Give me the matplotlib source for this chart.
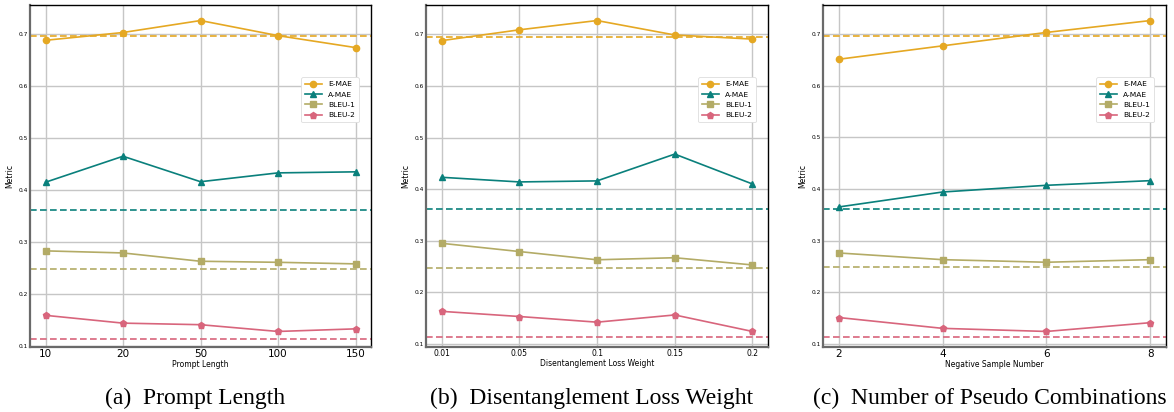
import matplotlib.pyplot as plt

# panel (a) prompt length
prompt_len = ["10", "20", "50", "100", "150"]
a_emae = [0.688, 0.703, 0.726, 0.697, 0.674]
a_amae = [0.415, 0.465, 0.416, 0.433, 0.435]
a_bleu1 = [0.283, 0.279, 0.263, 0.261, 0.258]
a_bleu2 = [0.159, 0.144, 0.141, 0.128, 0.133]

# panel (b) disentanglement loss weight
loss_weight = ["0.01", "0.05", "0.1", "0.15", "0.2"]
b_emae = [0.688, 0.709, 0.727, 0.699, 0.691]
b_amae = [0.423, 0.414, 0.416, 0.468, 0.410]
b_bleu1 = [0.295, 0.279, 0.263, 0.267, 0.253]
b_bleu2 = [0.163, 0.153, 0.142, 0.156, 0.124]

# panel (c) negative sample number
neg_num = [2, 4, 6, 8]
c_emae = [0.651, 0.677, 0.703, 0.726]
c_amae = [0.365, 0.394, 0.407, 0.416]
c_bleu1 = [0.276, 0.263, 0.258, 0.263]
c_bleu2 = [0.151, 0.130, 0.124, 0.141]

# baselines (dashed)
base = {"E-MAE": 0.696, "A-MAE": 0.361, "BLEU-1": 0.248, "BLEU-2": 0.114}

names = ["E-MAE", "A-MAE", "BLEU-1", "BLEU-2"]
colors = ["#E5A823", "#0A807C", "#B3AB66", "#D8657C"]
markers = ["o", "^", "s", "p"]


def draw(ax, x, series, xlabel, xtick_size):
    for name, ys, c, m in zip(names, series, colors, markers):
        ax.plot(x, ys, color=c, marker=m, markersize=4.5, linewidth=1.2, label=name)
    lo, hi = ax.get_ylim()
    for name, c in zip(names, colors):
        ax.axhline(base[name], color=c, linestyle=(0, (4, 2)), linewidth=1.2)
    ax.set_ylim(lo, hi)
    ax.grid(True, color="#c6c6c6", linewidth=1.0)
    ax.set_axisbelow(True)
    ax.tick_params(length=0, pad=1.5)
    ax.tick_params(axis="y", labelsize=4.2)
    ax.tick_params(axis="x", labelsize=xtick_size)
    ax.set_yticks([0.1, 0.2, 0.3, 0.4, 0.5, 0.6, 0.7])
    ax.set_xlabel(xlabel, fontsize=5.5, labelpad=1)
    ax.set_ylabel("Metric", fontsize=5.5, labelpad=3)
    for s in ["left", "bottom"]:
        ax.spines[s].set_color("#6a6a6a")
        ax.spines[s].set_linewidth(1.6)
    for s in ["top", "right"]:
        ax.spines[s].set_color("black")
        ax.spines[s].set_linewidth(1.0)
    leg = ax.legend(loc="upper right", bbox_to_anchor=(0.975, 0.80), fontsize=5.4,
                    handlelength=2.3, labelspacing=0.55, borderpad=0.5,
                    framealpha=1, edgecolor="#dddddd", fancybox=True)
    leg.get_frame().set_linewidth(0.6)


fig = plt.figure(figsize=(11.74, 4.12), dpi=100)
ax1 = fig.add_axes([30 / 1174, 65 / 412, 341 / 1174, 342 / 412])
ax2 = fig.add_axes([426 / 1174, 65 / 412, 342 / 1174, 342 / 412])
ax3 = fig.add_axes([823 / 1174, 65 / 412, 343 / 1174, 342 / 412])

draw(ax1, prompt_len, [a_emae, a_amae, a_bleu1, a_bleu2], "Prompt Length", 7.5)
draw(ax2, loss_weight, [b_emae, b_amae, b_bleu1, b_bleu2], "Disentanglement Loss Weight", 5.5)
draw(ax3, neg_num, [c_emae, c_amae, c_bleu1, c_bleu2], "Negative Sample Number", 7.5)
ax3.set_xticks(neg_num)

captions = ["(a)  Prompt Length", "(b)  Disentanglement Loss Weight",
            "(c)  Number of Pseudo Combinations"]
for ax, cap in zip([ax1, ax2, ax3], captions):
    pos = ax.get_position()
    fig.text((pos.x0 + pos.x1) / 2 - 5 / 1174, 14 / 412, cap, ha="center", va="center",
             fontsize=17, family="Liberation Serif")

fig.savefig("out.png", dpi=100)
